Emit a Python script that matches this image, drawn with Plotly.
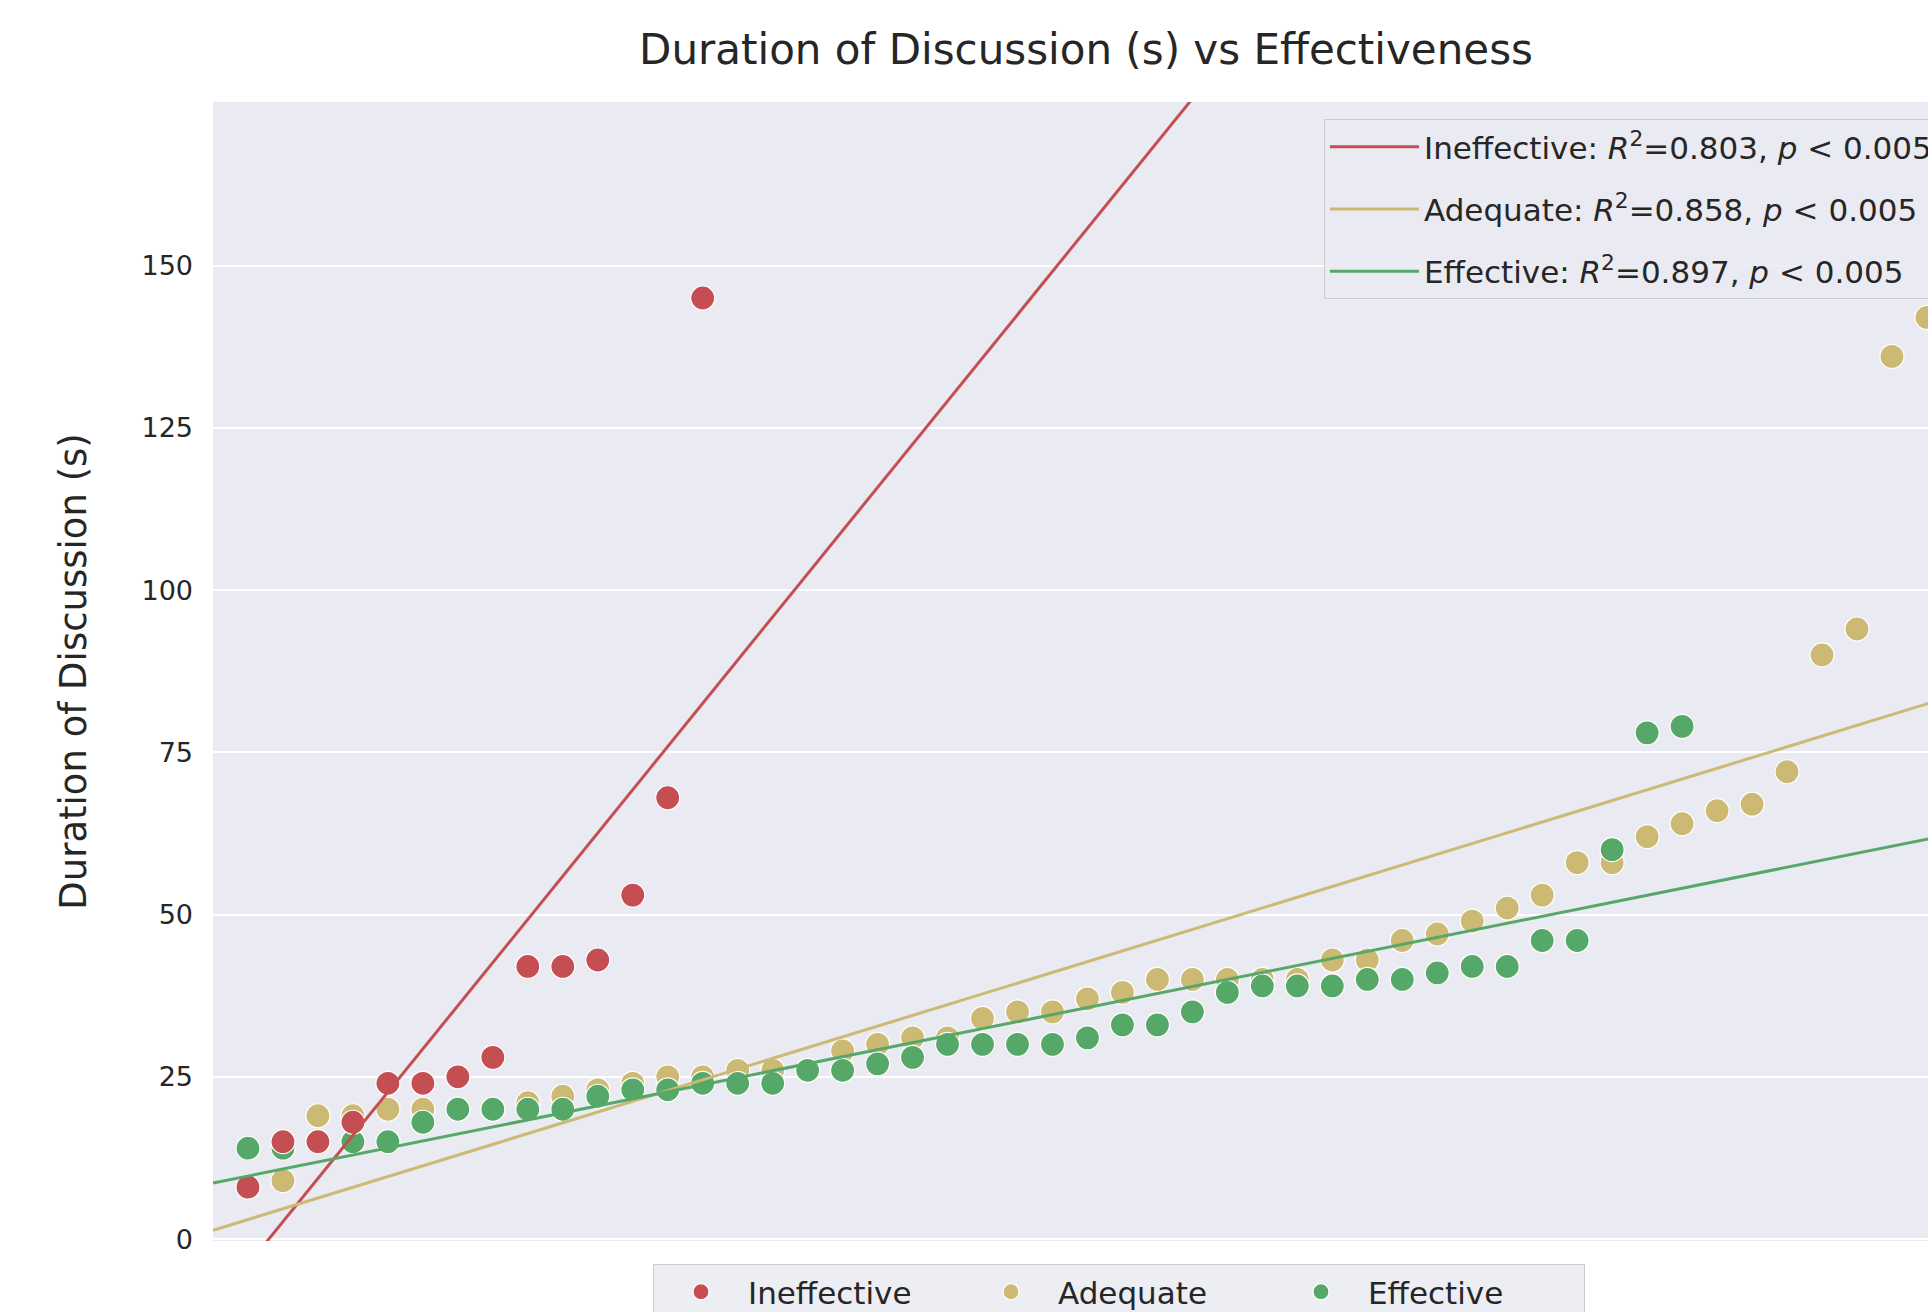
import numpy as np
import plotly.graph_objects as go

# ---- data ----
categories = ["Ineffective", "Adequate", "Effective"]
ineffective = [8, 15, 15, 18, 24, 24, 25, 28, 42, 42, 43, 53, 68, 145]
adequate = [8, 9, 19, 19, 20, 20, 20, 20, 21, 22, 23, 24, 25, 25, 26, 26, 26,
            29, 30, 31, 31, 34, 35, 35, 37, 38, 40, 40, 40, 40, 40, 43, 43,
            46, 47, 49, 51, 53, 58, 58, 62, 64, 66, 67, 72, 90, 94, 136, 142]
effective = [14, 14, 15, 15, 15, 18, 20, 20, 20, 20, 22, 23, 23, 24, 24, 24,
             26, 26, 27, 28, 30, 30, 30, 30, 31, 33, 33, 35, 38, 39, 39, 39,
             40, 40, 41, 42, 42, 46, 46, 60, 78, 79]
r2_labels = ["0.803", "0.858", "0.897"]
p_label = "0.005"
y_ticks = [0, 25, 50, 75, 100, 125, 150]

colors = {"Ineffective": "#C44E52", "Adequate": "#CCB974", "Effective": "#55A868"}
series = {"Ineffective": ineffective, "Adequate": adequate, "Effective": effective}
r2 = dict(zip(categories, r2_labels))

X_MAX = 49.03
FONT = "DejaVu Sans"
TXT = "#262626"

fig = go.Figure()

# scatter points (draw order: Adequate, Effective, Ineffective on top)
rank = {c: i for i, c in enumerate(categories)}
for cat in ["Adequate", "Effective", "Ineffective"]:
    ys = series[cat]
    xs = list(range(1, len(ys) + 1))
    fig.add_trace(go.Scatter(
        x=xs, y=ys, mode="markers", name=cat,
        marker=dict(size=24, color=colors[cat], line=dict(color="white", width=1.2)),
        legend="legend2", legendrank=rank[cat] + 1,
    ))

# regression lines
for cat in categories:
    ys = np.array(series[cat], dtype=float)
    xs = np.arange(1, len(ys) + 1, dtype=float)
    slope, intercept = np.polyfit(xs, ys, 1)
    xl = np.array([0.0, X_MAX + 1])
    fig.add_trace(go.Scatter(
        x=xl, y=slope * xl + intercept, mode="lines",
        name=f"{cat}: <i>R</i><sup>2</sup>=" + r2[cat] + ", <i>p</i> &lt; " + p_label,
        line=dict(color=colors[cat], width=3),
        legend="legend", legendrank=rank[cat] + 1, legendgroup=cat,
    ))

W, H = 1928, 1312
L, T, B = 213, 102, 71

fig.update_layout(
    width=W, height=H,
    margin=dict(l=L, r=0, t=T, b=B, autoexpand=False),
    paper_bgcolor="white", plot_bgcolor="#EAEAF2",
    font=dict(family=FONT, color=TXT),
    title=dict(text="Duration of Discussion (s) vs Effectiveness",
               x=1086 / W, xanchor="center", y=1 - 49 / H, yanchor="middle",
               xref="container", yref="container",
               font=dict(size=42, family=FONT, color=TXT)),
    xaxis=dict(range=[0, X_MAX], showgrid=False, zeroline=False,
               showticklabels=False, ticks="", showline=False),
    yaxis=dict(range=[-0.3, 175.2], tickvals=y_ticks, showgrid=True,
               gridcolor="white", gridwidth=1.5, zeroline=False, showline=False,
               ticks="", ticklabelstandoff=19,
               tickfont=dict(size=27, family=FONT, color=TXT),
               title=dict(text="Duration of Discussion (s)", standoff=43,
                          font=dict(size=37, family=FONT, color=TXT))),
    showlegend=True,
    legend=dict(x=(1324 - L) / (W - L), xanchor="left",
                y=1 - (119 - T) / (H - T - B), yanchor="top",
                bgcolor="rgba(234,234,242,0.85)", bordercolor="#CCCCCC", borderwidth=1,
                font=dict(size=31, family=FONT, color=TXT),
                tracegroupgap=19, orientation="v", itemwidth=89),
    legend2=dict(orientation="h", xref="container", yref="container",
                 x=653 / W, xanchor="left",
                 y=1 - 1264 / H, yanchor="top",
                 bgcolor="rgba(234,234,242,0.85)", bordercolor="#CCCCCC", borderwidth=1,
                 font=dict(size=31, family=FONT, color=TXT),
                 entrywidth=211, entrywidthmode="pixels", itemsizing="trace",
                 itemwidth=84),
)

fig.write_html("out.html", config={"displayModeBar": False},
               post_script="document.body.style.margin='0';document.body.style.overflow='hidden';")
